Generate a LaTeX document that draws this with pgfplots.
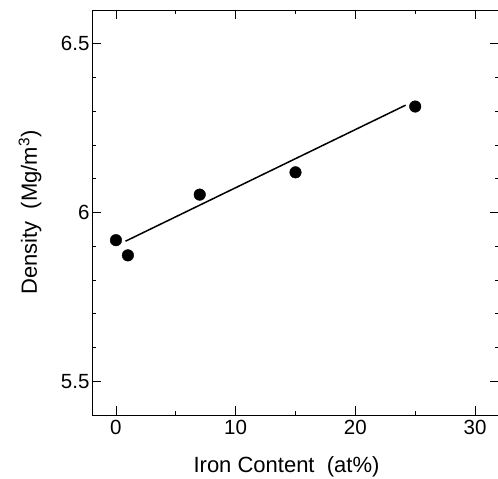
\documentclass[border=0pt]{standalone}
\usepackage{fontspec}
\setmainfont{Liberation Sans}
\usepackage{pgfplots}
\pgfplotsset{compat=1.18}

\begin{document}
\begin{tikzpicture}
\begin{axis}[
  scale only axis,
  width=407pt, height=405pt,
  xmin=-2, xmax=32,
  ymin=5.4, ymax=6.6,
  xtick={0,10,20,30},
  minor xtick={5,15,25},
  ytick={5.5,6,6.5},
  yticklabels={5.5,6,6.5},
  minor ytick={5.6,5.7,5.8,5.9,6.1,6.2,6.3,6.4},
  tick align=inside,
  major tick length=9pt,
  minor tick length=4.5pt,
  tick style={black, line width=0.8pt},
  axis line style={line width=0.9pt},
  /pgf/number format/assume math mode=true,
  tick label style={font=\fontsize{20.5}{24}\selectfont},
  xticklabel style={yshift=-2pt},
  yticklabel style={xshift=1pt},
  xlabel={Iron Content\ \ (at\%)},
  ylabel={Density\ \ (Mg/m\textsuperscript{3})},
  every axis x label/.style={at={(rel axis cs:0.5,0)}, yshift=-52pt, xshift=-9pt, anchor=center,
    font=\fontsize{22}{26}\selectfont},
  every axis y label/.style={at={(rel axis cs:0,0.5)}, xshift=-62pt, rotate=90, anchor=center,
    font=\fontsize{22}{26}\selectfont},
  clip=false,
]
\addplot[only marks, mark=*, mark size=5.8pt, black] coordinates {
  (0,5.918) (1,5.873) (7,6.053) (15,6.119) (25,6.314)
};
\addplot[black, line width=1.5pt] coordinates {
  (0.8,5.915) (24.2,6.318)
};
\end{axis}
\pgfresetboundingbox
\path ([xshift=-92pt,yshift=-64pt]current axis.south west) rectangle ([xshift=-1pt,yshift=10pt]current axis.north east);
\end{tikzpicture}
\end{document}
